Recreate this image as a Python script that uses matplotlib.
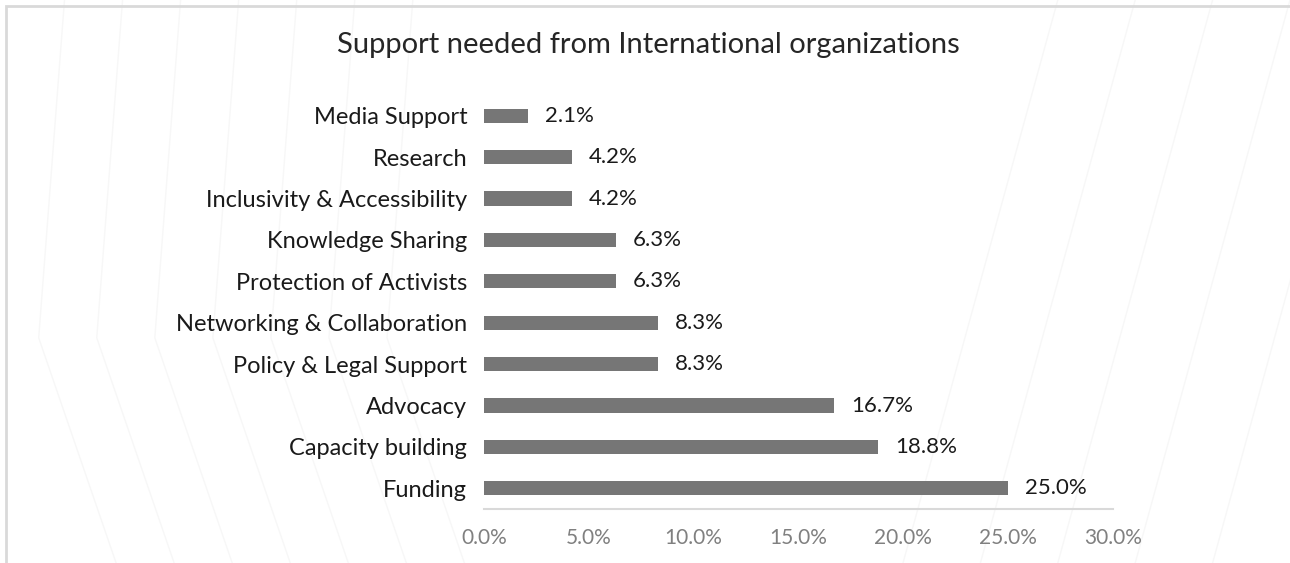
import matplotlib.pyplot as plt
from matplotlib.ticker import PercentFormatter
from matplotlib.patches import Rectangle

plt.rcParams['font.family'] = ['Lato', 'DejaVu Sans']

# Share of responses per type of support (listed top to bottom)
categories = ['Media Support', 'Research', 'Inclusivity & Accessibility',
              'Knowledge Sharing', 'Protection of Activists',
              'Networking & Collaboration', 'Policy & Legal Support',
              'Advocacy', 'Capacity building', 'Funding']
shares = [2.1, 4.2, 4.2, 6.3, 6.3, 8.3, 8.3, 16.7, 18.8, 25.0]
xticks = [0, 5, 10, 15, 20, 25, 30]

fig = plt.figure(figsize=(12.9, 5.63), dpi=100)
ax = fig.add_axes([484 / 1290, 1 - 509 / 563, 629 / 1290, 414 / 563])

# faint decorative strokes in the background
for x0 in [0.03, 0.075, 0.12, 0.165, 0.21, 0.255, 0.30]:
    fig.add_artist(plt.Line2D([x0 + 0.02, x0, x0 + 0.06], [1.0, 0.4, 0.0],
                              color='#f7f7f7', lw=1.0, zorder=-5))
for x0 in [0.70, 0.76, 0.82, 0.88, 0.94]:
    fig.add_artist(plt.Line2D([x0, x0 + 0.12], [0.0, 1.0],
                              color='#f7f7f7', lw=1.0, zorder=-5))
fig.add_artist(Rectangle((6 / 1290, -0.1), 1.2, 1 - 6 / 563 + 0.1,
                         transform=fig.transFigure, fill=False,
                         edgecolor='#d9d9d9', lw=2, zorder=-4))

y = list(range(len(categories)))
ax.barh(y, shares, height=0.34, color='#767676', zorder=2)
for yi, v in zip(y, shares):
    ax.text(v + 0.8, yi, f'{v:.1f}%', va='center', ha='left',
            fontsize=16, color='#1a1a1a')

ax.set_yticks(y)
ax.set_yticklabels(categories, fontsize=17, color='#1a1a1a')
ax.set_ylim(len(categories) - 0.5, -0.5)
ax.set_xlim(0, 30)
ax.set_xticks(xticks)
ax.xaxis.set_major_formatter(PercentFormatter(decimals=1))
ax.tick_params(axis='x', labelsize=15, colors='#808080', length=0, pad=14)
ax.tick_params(axis='y', length=0, pad=12)
for s in ['top', 'right', 'left']:
    ax.spines[s].set_visible(False)
ax.spines['bottom'].set_color('#d9d9d9')
ax.spines['bottom'].set_linewidth(1.5)
ax.patch.set_alpha(0)

fig.text(648 / 1290, 1 - 45 / 563, 'Support needed from International organizations',
         ha='center', va='center', fontsize=21, color='#262626')

fig.savefig('out.png', dpi=100)
